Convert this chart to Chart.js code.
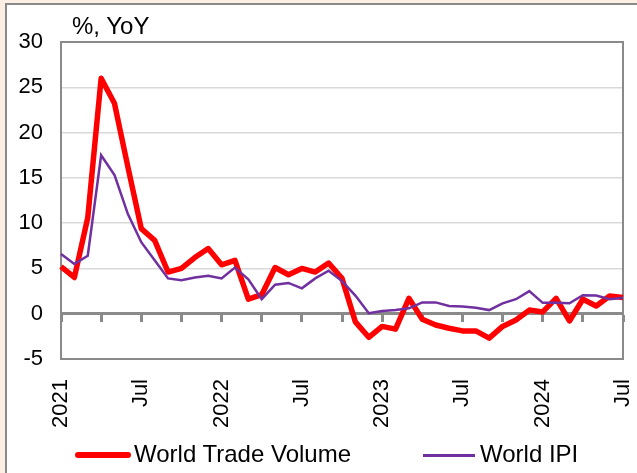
<!DOCTYPE html>
<html>
<head>
<meta charset="utf-8">
<script src="https://cdn.jsdelivr.net/npm/chart.js@4"></script>
<style>
  html, body { margin: 0; padding: 0; }
  body { width: 637px; height: 473px; background: #fdefe3; position: relative; overflow: hidden;
         font-family: "Liberation Sans", Arial, sans-serif; }
  #frame { position: absolute; left: 5px; top: 3px; width: 700px; height: 500px; background: #fff;
           border-left: 2px solid #8a8a8a; border-top: 2px solid #8a8a8a; }
  #chart { position: absolute; left: 0; top: 0; }
  .txt { position: absolute; font-size: 24px; line-height: 24px; color: #000; white-space: nowrap; }
  .swatch { position: absolute; }
</style>
</head>
<body>
<div id="frame"></div>
<canvas id="chart" width="637" height="473"></canvas>
<div class="txt" style="left:72px; top:14px;">%, YoY</div>
<div class="swatch" style="left:75px; top:452px; width:56px; height:6px; border-radius:3px; background:#ff0000;"></div>
<div class="txt" style="left:134px; top:442px;">World Trade Volume</div>
<div class="swatch" style="left:423px; top:454px; width:52px; height:3px; background:#7030a0;"></div>
<div class="txt" style="left:480px; top:442px;">World IPI</div>

<script>
// === DATA ===
const months = [
  "2021-01", "2021-02", "2021-03", "2021-04", "2021-05", "2021-06", "2021-07", "2021-08", "2021-09", "2021-10", "2021-11", "2021-12",
  "2022-01", "2022-02", "2022-03", "2022-04", "2022-05", "2022-06", "2022-07", "2022-08", "2022-09", "2022-10", "2022-11", "2022-12",
  "2023-01", "2023-02", "2023-03", "2023-04", "2023-05", "2023-06", "2023-07", "2023-08", "2023-09", "2023-10", "2023-11", "2023-12",
  "2024-01", "2024-02", "2024-03", "2024-04", "2024-05", "2024-06", "2024-07"
];
const tickLabels = ["2021", "Jul", "2022", "Jul", "2023", "Jul", "2024", "Jul"];

const tradeVolume = [5.2, 4.0, 10.6, 26.0, 23.2, 16.2, 9.4, 8.1, 4.6, 5.0, 6.2, 7.2,
  5.4, 5.9, 1.6, 2.1, 5.1, 4.3, 5.0, 4.6, 5.6, 3.9, -0.9, -2.6,
  -1.4, -1.7, 1.7, -0.6, -1.25, -1.6, -1.9, -1.9, -2.7, -1.4, -0.7, 0.4,
  0.2, 1.7, -0.8, 1.6, 0.85, 1.95, 1.8];
const worldIPI = [6.6, 5.5, 6.4, 17.5, 15.3, 11.0, 7.9, 5.9, 3.9, 3.7, 4.0, 4.2,
  3.9, 5.1, 3.8, 1.6, 3.2, 3.4, 2.8, 3.9, 4.75, 3.6, 2.0, 0.05,
  0.3, 0.4, 0.6, 1.25, 1.25, 0.85, 0.8, 0.65, 0.4, 1.15, 1.6, 2.5,
  1.2, 1.2, 1.15, 2.05, 2.0, 1.6, 1.75];

const FONT = "'Liberation Sans', Arial, sans-serif";
const AXIS_GRAY = "#8a8a8a";

// rahmen um die plotfläche
const plotFrame = {
  id: "plotFrame",
  beforeDatasetsDraw(chart) {
    const { ctx, chartArea: a } = chart;
    ctx.save();
    ctx.strokeStyle = AXIS_GRAY;
    ctx.lineWidth = 2;
    ctx.strokeRect(a.left, a.top, a.right - a.left, a.bottom - a.top);
    ctx.restore();
  }
};

const ctx = document.getElementById("chart").getContext("2d");
new Chart(ctx, {
  type: "line",
  data: {
    labels: months,
    datasets: [
      { label: "World Trade Volume", data: tradeVolume, borderColor: "#ff0000", borderWidth: 5.5,
        pointRadius: 0, tension: 0, order: 1, borderJoinStyle: "round" },
      { label: "World IPI", data: worldIPI, borderColor: "#7030a0", borderWidth: 2.5,
        pointRadius: 0, tension: 0, order: 0 }
    ]
  },
  options: {
    responsive: false,
    animation: false,
    layout: { padding: { left: 0, right: 14, top: 42, bottom: 0 } },
    plugins: { legend: { display: false }, tooltip: { enabled: false } },
    scales: {
      x: {
        position: "bottom",
        grid: { display: false },
        border: { display: false },
        ticks: {
          autoSkip: false, minRotation: 90, maxRotation: 90, padding: 12,
          color: "#000", font: { family: FONT, size: 22 },
          callback: (v, i) => (i % 6 === 0 ? tickLabels[i / 6] : "")
        },
        afterFit: (s) => { s.height = 114; s.paddingLeft = 0; s.paddingRight = 0; }
      },
      x0: {
        type: "category",
        position: { y: 0 },
        grid: {
          display: true, drawOnChartArea: false, drawTicks: true, tickLength: 7, tickWidth: 3,
          tickColor: (c) => (c.index % 3 === 0 ? AXIS_GRAY : "rgba(0,0,0,0)")
        },
        border: { display: true, color: AXIS_GRAY, width: 3 },
        ticks: { display: false, autoSkip: false }
      },
      y: {
        min: -5, max: 30,
        ticks: { stepSize: 5, padding: 18, color: "#000", font: { family: FONT, size: 22 } },
        grid: { color: "#d9d9d9", lineWidth: 1.5, drawTicks: false },
        border: { display: false },
        afterFit: (s) => { s.width = 61; }
      }
    }
  },
  plugins: [plotFrame]
});
</script>
</body>
</html>
